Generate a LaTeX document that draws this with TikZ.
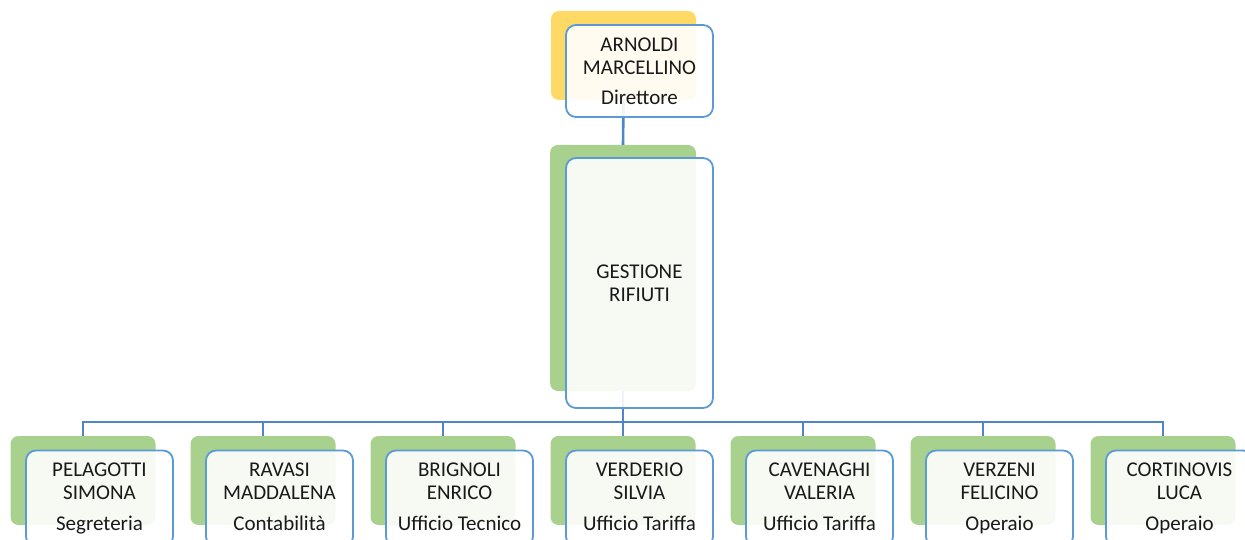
\documentclass[tikz,border=0pt]{standalone}
\usepackage{fontspec}
\setmainfont{Carlito}
\usepackage{tikz}
\usetikzlibrary{positioning, calc}

\definecolor{giallo}{RGB}{255,217,102}
\definecolor{verde}{RGB}{169,209,142}
\definecolor{bordo}{RGB}{91,155,213}
\definecolor{linea}{RGB}{79,134,196}

\begin{document}
\begin{tikzpicture}[
  x=1pt, y=-1pt,
  every node/.style={font=\fontsize{21}{23}\selectfont, text=black!90},
  retro/.style={rectangle, fill=#1, rounded corners=8pt, draw=none,
                minimum width=145pt, minimum height=89pt, inner sep=0pt},
  fronte/.style={rectangle, fill=white, fill opacity=0.9, text opacity=1,
                 draw=bordo, line width=1.8pt, rounded corners=10pt,
                 minimum width=147pt, minimum height=92pt, inner sep=0pt,
                 align=center},
  link/.style={draw=linea, line width=2.6pt},
]
\useasboundingbox (0,0) rectangle (1245,540);

% back boxes
\node[retro=giallo] (dirB) at (623.5,55.5) {};
\node[retro=verde, minimum width=146pt, minimum height=246pt] (gestB) at (623,268) {};
\foreach \i in {0,...,6}
  \node[retro=verde] (cB\i) at (83+180*\i,480.5) {};

% connectors
\coordinate (bus) at (0,422);
\draw[link] (dirB.south) -- (gestB.north);
\foreach \i in {0,...,6}
  \draw[link] (gestB.south) -- (gestB.south |- bus) -| (cB\i.north);

% front boxes
\node[fronte] (dir) at (639.5,71) {ARNOLDI\\MARCELLINO\\[7pt]Direttore};
\node[fronte, minimum height=250pt] (gest) at (639.5,283) {GESTIONE\\RIFIUTI};
\foreach \nome/\ruolo [count=\i from 0] in {
    {PELAGOTTI\\SIMONA}/Segreteria,
    {RAVASI\\MADDALENA}/Contabilità,
    {BRIGNOLI\\ENRICO}/Ufficio Tecnico,
    {VERDERIO\\SILVIA}/Ufficio Tariffa,
    {CAVENAGHI\\VALERIA}/Ufficio Tariffa,
    {VERZENI\\FELICINO}/Operaio,
    {CORTINOVIS\\LUCA}/Operaio}
  \node[fronte, minimum height=96pt] (c\i) at (99.5+180*\i,498.5) {\strut\nome\\[8pt]\ruolo\strut};
\end{tikzpicture}
\end{document}
